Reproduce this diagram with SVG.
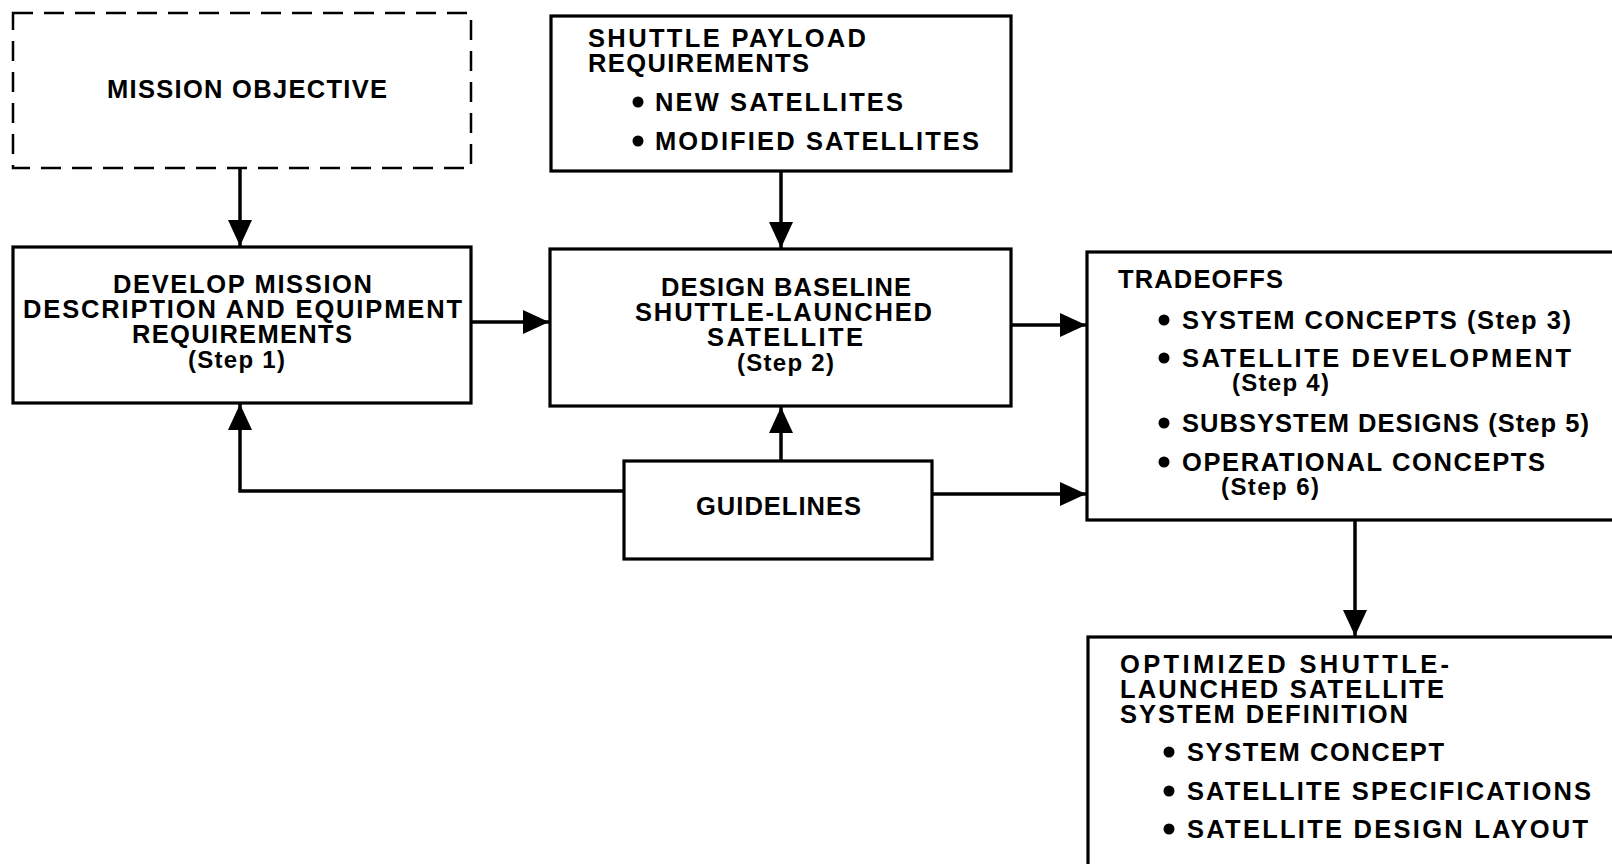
<svg xmlns="http://www.w3.org/2000/svg" width="1612" height="864" viewBox="0 0 1612 864">
<style>
  .box { fill: #fff; stroke: #000; stroke-width: 3.2; }
  .dash { fill: #fff; stroke: #000; stroke-width: 2.5; stroke-dasharray: 20 11; }
  .t { font-family: "Liberation Sans", Arial, sans-serif; font-weight: bold; font-size: 25.5px; fill: #000; }
  .s { font-family: "Liberation Sans", Arial, sans-serif; font-weight: bold; font-size: 24px; fill: #000; }
  .line { fill: none; stroke: #000; stroke-width: 3.5; }
  .dot { fill: #000; }
</style>
<defs>
  <marker id="arr" markerUnits="userSpaceOnUse" markerWidth="30" markerHeight="26" refX="26" refY="12" orient="auto">
    <path d="M0,0 L26,12 L0,24 Z" fill="#000"/>
  </marker>
</defs>
<rect width="1612" height="864" fill="#fff"/>

<g id="connectors">
  <line class="line" x1="240" y1="168" x2="240" y2="246" marker-end="url(#arr)"/>
  <line class="line" x1="781" y1="171" x2="781" y2="248" marker-end="url(#arr)"/>
  <line class="line" x1="471" y1="322" x2="549" y2="322" marker-end="url(#arr)"/>
  <line class="line" x1="1011" y1="325" x2="1086" y2="325" marker-end="url(#arr)"/>
  <line class="line" x1="781" y1="461" x2="781" y2="407" marker-end="url(#arr)"/>
  <polyline class="line" points="624,491 240,491 240,404" marker-end="url(#arr)"/>
  <line class="line" x1="932" y1="494" x2="1086" y2="494" marker-end="url(#arr)"/>
  <line class="line" x1="1355" y1="520" x2="1355" y2="636" marker-end="url(#arr)"/>
</g>

<g id="mission-objective">
  <rect class="dash" x="13" y="13" width="458" height="155"/>
  <text class="t" x="107" y="98" textLength="280" lengthAdjust="spacing">MISSION OBJECTIVE</text>
</g>

<g id="shuttle-payload">
  <rect class="box" x="551" y="16" width="460" height="155"/>
  <text class="t" x="588" y="47" textLength="278" lengthAdjust="spacing">SHUTTLE PAYLOAD</text>
  <text class="t" x="588" y="72" textLength="221" lengthAdjust="spacing">REQUIREMENTS</text>
  <circle class="dot" cx="638" cy="102" r="5.5"/>
  <text class="t" x="655" y="111" textLength="248" lengthAdjust="spacing">NEW SATELLITES</text>
  <circle class="dot" cx="638" cy="141" r="5.5"/>
  <text class="t" x="655" y="150" textLength="324" lengthAdjust="spacing">MODIFIED SATELLITES</text>
</g>

<g id="step1">
  <rect class="box" x="13" y="247" width="458" height="156"/>
  <text class="t" x="113" y="293" textLength="259" lengthAdjust="spacing">DEVELOP MISSION</text>
  <text class="t" x="23" y="318" textLength="439" lengthAdjust="spacing">DESCRIPTION AND EQUIPMENT</text>
  <text class="t" x="132" y="343" textLength="220" lengthAdjust="spacing">REQUIREMENTS</text>
  <text class="s" x="188" y="368" textLength="97" lengthAdjust="spacing">(Step 1)</text>
</g>

<g id="step2">
  <rect class="box" x="550" y="249" width="461" height="157"/>
  <text class="t" x="661" y="296" textLength="250" lengthAdjust="spacing">DESIGN BASELINE</text>
  <text class="t" x="635" y="321" textLength="297" lengthAdjust="spacing">SHUTTLE-LAUNCHED</text>
  <text class="t" x="707" y="346" textLength="156" lengthAdjust="spacing">SATELLITE</text>
  <text class="s" x="737" y="371" textLength="97" lengthAdjust="spacing">(Step 2)</text>
</g>

<g id="guidelines">
  <rect class="box" x="624" y="461" width="308" height="98"/>
  <text class="t" x="696" y="515" textLength="165" lengthAdjust="spacing">GUIDELINES</text>
</g>

<g id="tradeoffs">
  <rect class="box" x="1087" y="252" width="545" height="268"/>
  <text class="t" x="1118" y="288" textLength="165" lengthAdjust="spacing">TRADEOFFS</text>
  <circle class="dot" cx="1164" cy="320" r="5.5"/>
  <text class="t" x="1182" y="329" textLength="389" lengthAdjust="spacing">SYSTEM CONCEPTS (Step 3)</text>
  <circle class="dot" cx="1164" cy="358" r="5.5"/>
  <text class="t" x="1182" y="367" textLength="389" lengthAdjust="spacing">SATELLITE DEVELOPMENT</text>
  <text class="s" x="1232" y="391" textLength="97" lengthAdjust="spacing">(Step 4)</text>
  <circle class="dot" cx="1164" cy="423" r="5.5"/>
  <text class="t" x="1182" y="432" textLength="407" lengthAdjust="spacing">SUBSYSTEM DESIGNS (Step 5)</text>
  <circle class="dot" cx="1164" cy="462" r="5.5"/>
  <text class="t" x="1182" y="471" textLength="363" lengthAdjust="spacing">OPERATIONAL CONCEPTS</text>
  <text class="s" x="1221" y="495" textLength="98" lengthAdjust="spacing">(Step 6)</text>
</g>

<g id="optimized">
  <rect class="box" x="1088" y="637" width="544" height="250"/>
  <text class="t" x="1120" y="673" textLength="329" lengthAdjust="spacing">OPTIMIZED SHUTTLE-</text>
  <text class="t" x="1120" y="698" textLength="324" lengthAdjust="spacing">LAUNCHED SATELLITE</text>
  <text class="t" x="1120" y="723" textLength="288" lengthAdjust="spacing">SYSTEM DEFINITION</text>
  <circle class="dot" cx="1169" cy="752" r="5.5"/>
  <text class="t" x="1187" y="761" textLength="257" lengthAdjust="spacing">SYSTEM CONCEPT</text>
  <circle class="dot" cx="1169" cy="791" r="5.5"/>
  <text class="t" x="1187" y="800" textLength="404" lengthAdjust="spacing">SATELLITE SPECIFICATIONS</text>
  <circle class="dot" cx="1169" cy="829" r="5.5"/>
  <text class="t" x="1187" y="838" textLength="401" lengthAdjust="spacing">SATELLITE DESIGN LAYOUT</text>
</g>
</svg>
